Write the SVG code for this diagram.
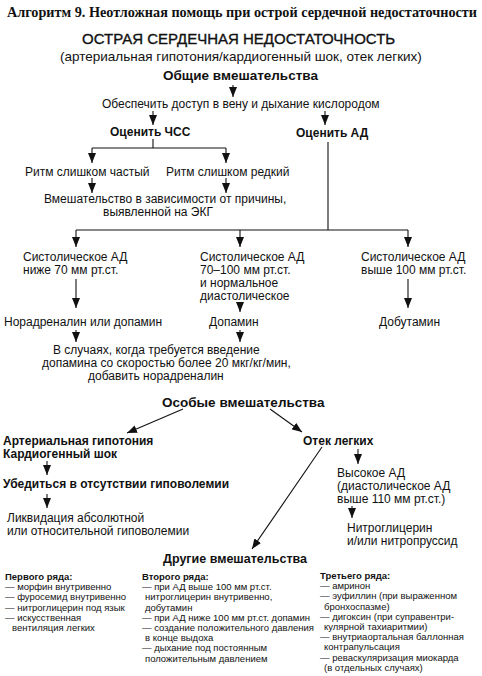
<svg xmlns="http://www.w3.org/2000/svg" width="482" height="676" viewBox="0 0 482 676">
<defs>
<style>
text{font-family:"Liberation Sans",Arial,sans-serif;fill:#111;font-size:12px}
.t{font-family:"Liberation Serif","Times New Roman",serif;font-weight:bold;font-size:14px}
.h{font-size:15px;stroke:#111;stroke-width:0.35}
.s{font-size:13.5px}
.b{font-weight:bold}
.b13{font-weight:bold;font-size:13.5px}
.c{font-size:9.5px}
.cb{font-size:9.5px;font-weight:bold}
.ln{stroke:#111;stroke-width:1.1;fill:none}
.ar{stroke:#111;stroke-width:1.1;fill:none;marker-end:url(#ah)}
</style>
<marker id="ah" viewBox="0 -4 10 8" refX="10" refY="0" markerWidth="10" markerHeight="8" markerUnits="userSpaceOnUse" orient="auto">
<path d="M0,-4 L10,0 L0,4 z" fill="#111"/>
</marker>
</defs>
<rect width="482" height="676" fill="#fff"/>

<g id="title"><text class="t" x="7" y="17" textLength="470" lengthAdjust="spacingAndGlyphs">Алгоритм 9. Неотложная помощь при острой сердечной недостаточности</text></g>
<g id="header"><text class="h" x="82" y="44">ОСТРАЯ СЕРДЕЧНАЯ НЕДОСТАТОЧНОСТЬ</text>
<text class="s" x="60" y="61">(артериальная гипотония/кардиогенный шок, отек легких)</text></g>
<g id="general"><text class="b13" x="163" y="80">Общие вмешательства</text></g>
<g id="access"><text x="102" y="108">Обеспечить доступ в вену и дыхание кислородом</text></g>
<g id="hr"><text class="b" x="110" y="136">Оценить ЧСС</text></g>
<g id="bp"><text class="b" x="296" y="137">Оценить АД</text></g>
<g id="fast"><text x="25" y="176">Ритм слишком частый</text></g>
<g id="slow"><text x="166" y="176">Ритм слишком редкий</text></g>
<g id="cause"><text x="44" y="203">Вмешательство в зависимости от причины,</text><text x="103" y="216">выявленной на ЭКГ</text></g>
<g id="sbp-low"><text x="23" y="261">Систолическое АД</text><text x="23" y="274">ниже 70 мм рт.ст.</text></g>
<g id="sbp-mid"><text x="200" y="261">Систолическое АД</text><text x="200" y="274">70–100 мм рт.ст.</text><text x="200" y="287">и нормальное</text><text x="200" y="300">диастолическое</text></g>
<g id="sbp-high"><text x="361" y="261">Систолическое АД</text><text x="361" y="274">выше 100 мм рт.ст.</text></g>
<g id="norad"><text x="4" y="326">Норадреналин или допамин</text></g>
<g id="dopamine"><text x="209" y="326">Допамин</text></g>
<g id="dobutamine"><text x="379" y="326">Добутамин</text></g>
<g id="add"><text x="53" y="354">В случаях, когда требуется введение</text><text x="42" y="367">допамина со скоростью более 20 мкг/кг/мин,</text><text x="88" y="380">добавить норадреналин</text></g>
<g id="special"><text class="b13" x="162" y="407">Особые вмешательства</text></g>
<g id="hypo"><text class="b" x="3" y="445">Артериальная гипотония</text><text class="b" x="3" y="458">Кардиогенный шок</text></g>
<g id="check"><text class="b" x="3" y="488">Убедиться в отсутствии гиповолемии</text></g>
<g id="fix"><text x="7" y="522">Ликвидация абсолютной</text><text x="7" y="535">или относительной гиповолемии</text></g>
<g id="edema"><text class="b" x="303" y="445">Отек легких</text></g>
<g id="highbp"><text x="337" y="477">Высокое АД</text><text x="337" y="490">(диастолическое АД</text><text x="337" y="503">выше 110 мм рт.ст.)</text></g>
<g id="nitro"><text x="347" y="532">Нитроглицерин</text><text x="347" y="545">и/или нитропруссид</text></g>
<g id="other"><text class="b" style="font-size:12.5px" x="163" y="563">Другие вмешательства</text></g>
<g id="col1">
<text class="cb" x="5" y="580">Первого ряда:</text>
<text class="c" x="5" y="590.2">— морфин внутривенно</text>
<text class="c" x="5" y="600.4">— фуросемид внутривенно</text>
<text class="c" x="5" y="610.6">— нитроглицерин под язык</text>
<text class="c" x="5" y="620.8">— искусственная</text>
<text class="c" x="12" y="631">вентиляция легких</text>
</g>
<g id="col2">
<text class="cb" x="142" y="580">Второго ряда:</text>
<text class="c" x="142" y="590.2">— при АД выше 100 мм рт.ст.</text>
<text class="c" x="145" y="600.4">нитроглицерин внутривенно,</text>
<text class="c" x="145" y="610.6">добутамин</text>
<text class="c" x="142" y="620.8">— при АД ниже 100 мм рт.ст. допамин</text>
<text class="c" x="142" y="631">— создание положительного давления</text>
<text class="c" x="145" y="641.2">в конце выдоха</text>
<text class="c" x="142" y="651.4">— дыхание под постоянным</text>
<text class="c" x="145" y="661.6">положительным давлением</text>
</g>
<g id="col3">
<text class="cb" x="320" y="579">Третьего ряда:</text>
<text class="c" x="320" y="589.2">— амринон</text>
<text class="c" x="320" y="599.4">— эуфиллин (при выраженном</text>
<text class="c" x="324" y="609.6">бронхоспазме)</text>
<text class="c" x="320" y="619.8">— дигоксин (при суправентри-</text>
<text class="c" x="324" y="630">кулярной тахиаритмии)</text>
<text class="c" x="320" y="640.2">— внутриаортальная баллонная</text>
<text class="c" x="324" y="650.4">контрапульсация</text>
<text class="c" x="320" y="660.6">— реваскуляризация миокарда</text>
<text class="c" x="324" y="670.8">(в отдельных случаях)</text>
</g>

<g id="connectors">
<path class="ar" d="M233,85 V97"/>
<path class="ar" d="M153,111 V125"/>
<path class="ar" d="M325,111 V125"/>
<path class="ln" d="M153,139 V148 M92,148 H226"/>
<path class="ar" d="M92,148 V163"/>
<path class="ar" d="M226,148 V163"/>
<path class="ar" d="M92,178 V193"/>
<path class="ar" d="M226,178 V193"/>
<path class="ln" d="M328,142 V230 M76,230 H408"/>
<path class="ar" d="M76,230 V247"/>
<path class="ar" d="M240,230 V247"/>
<path class="ar" d="M408,230 V247"/>
<path class="ar" d="M76,279 V308"/>
<path class="ar" d="M240,303 V312"/>
<path class="ar" d="M408,279 V308"/>
<path class="ar" d="M76,330 V342"/>
<path class="ar" d="M240,330 V342"/>
<path class="ar" d="M183,409 L127,433"/>
<path class="ar" d="M270,409 L302,432"/>
<path class="ar" d="M47,461 V475"/>
<path class="ar" d="M47,494 V508"/>
<path class="ar" d="M322,447 L252,549"/>
<path class="ar" d="M358,449 V464"/>
<path class="ar" d="M352,506 V518"/>
</g>
</svg>
